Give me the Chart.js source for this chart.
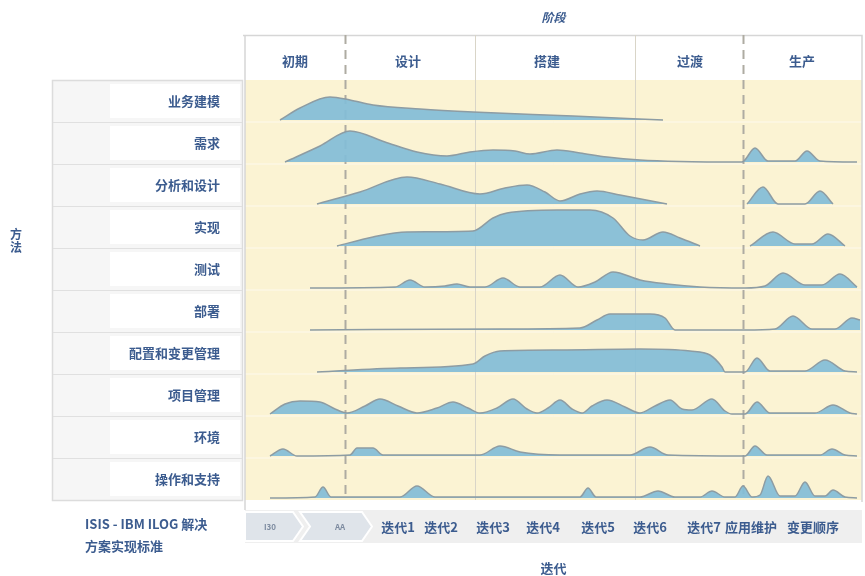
<!DOCTYPE html>
<html lang="zh">
<head>
  <meta charset="UTF-8">
  <title>阶段 / 迭代</title>
  <script src="https://cdn.jsdelivr.net/npm/chart.js"></script>
  <style>
    body { margin: 0; background: #fff; font-family: "Noto Sans CJK SC", sans-serif; }
    .wrap { position: relative; width: 865px; height: 576px; }
    .side-title {
      position: absolute; left: 10px; top: 227px;
      font-size: 12px; font-weight: bold; line-height: 13px; color: #3c5c8f;
    }
    .std-label {
      position: absolute; left: 85px; top: 513px;
      font-size: 13px; font-weight: bold; line-height: 22px; color: #3c5c8f;
    }
  </style>
</head>
<body>
<div class="wrap">
  <canvas id="rup" width="865" height="576"></canvas>
  <div class="side-title">方<br>法</div>
  <div class="std-label">ISIS - IBM ILOG 解决<br>方案实现标准</div>
</div>

<script>
  // categories / tick labels
  const workflows = ['业务建模', '需求', '分析和设计', '实现', '测试', '部署', '配置和变更管理', '项目管理', '环境', '操作和支持'];
  const phases = ['初期', '设计', '搭建', '过渡', '生产'];
  const phaseCenters = [50, 163, 302, 445, 557];
  const phaseBounds = [100, 230, 390, 498];      // first and last are dashed
  const iterations = ['I30', 'AA', '迭代1', '迭代2', '迭代3', '迭代4', '迭代5', '迭代6', '迭代7', '应用维护', '变更顺序'];
  const iterationPos = [25, 95, 153, 196, 248, 298, 353, 405, 459, 506, 568];

  // effort curves [time, effort] per workflow (null = no activity)
  const businessModeling = [[35,0],[55,12],[85,23],[105,20],[128,15],[175,11],[228,8],[328,4],[418,0]];
  const requirements = [[40,0],[75,16],[105,31],[140,20],[172,10],[202,6],[225,10],[248,12],[270,11],[285,8],[312,12],[335,9],[362,5],[395,2],[435,0.5],[497,0],[510,14],[523,1],[550,1],[562,11],[575,1],[612,0]];
  const analysisDesign = [[72,0],[115,12],[162,27],[195,20],[235,10],[260,16],[282,19],[300,12],[315,3],[335,10],[352,13],[375,9],[422,0],[460,null],[502,0],[518,17],[533,0],[560,0],[575,13],[588,0]];
  const implementation = [[92,0],[128,9],[162,14],[228,15],[248,28],[262,33],[312,36],[345,36],[368,28],[385,10],[398,6],[418,14],[435,8],[455,0],[480,null],[505,0],[528,14],[550,2],[567,2],[583,12],[600,0]];
  const test = [[65,0],[150,1],[165,8],[180,1],[200,2],[212,4],[225,1],[240,1],[258,10],[275,1],[295,1],[315,13],[333,1],[350,6],[368,16],[395,8],[422,4],[455,1],[500,0],[520,2],[538,15],[560,3],[577,3],[595,14],[612,1]];
  const deployment = [[65,0],[255,1],[335,2],[352,10],[365,16],[405,16],[420,12],[430,0],[500,0],[530,1],[548,14],[567,1],[590,1],[607,12],[615,10]];
  const configChange = [[72,0],[155,4],[228,8],[240,16],[255,21],[315,22],[395,23],[445,21],[465,17],[477,5],[480,0],[500,0],[512,14],[525,1],[560,1],[580,12],[600,1],[612,0]];
  const projectMgmt = [[25,0],[40,10],[55,13],[75,12],[90,5],[102,1],[120,8],[135,15],[153,8],[172,1],[192,6],[208,12],[223,6],[235,1],[252,6],[268,15],[282,5],[292,1],[303,6],[315,14],[327,5],[337,1],[347,8],[362,14],[380,7],[395,1],[410,8],[425,14],[437,5],[447,4],[467,15],[480,3],[487,0],[500,0],[512,12],[525,1],[570,1],[588,9],[605,1],[612,0]];
  const environment = [[25,0],[38,7],[52,0],[105,1],[112,8],[128,8],[138,1],[235,1],[255,10],[275,4],[315,1],[385,1],[405,9],[423,1],[500,0],[510,10],[522,1],[575,1],[587,7],[600,1],[612,0]];
  const operations = [[25,0],[70,1],[78,11],[86,1],[155,1],[172,12],[190,1],[335,1],[343,10],[351,1],[395,1],[413,7],[430,1],[455,1],[467,7],[480,1],[490,1],[498,12],[507,1],[515,3],[523,22],[535,2],[550,2],[560,16],[570,2],[580,2],[588,8],[600,1],[612,0]];

  const curves = [businessModeling, requirements, analysisDesign, implementation, test, deployment, configChange, projectMgmt, environment, operations];

  const ROW = 42;
  const TOTAL = ROW * workflows.length;
  const baseOf = i => TOTAL - ROW * (i + 1) + 2;
  const centerOf = i => TOTAL - ROW * i - ROW / 2;

  const blue = '#3c5c8f';
  Chart.defaults.font.family = '"Noto Sans CJK SC", "Noto Sans", sans-serif';
  Chart.defaults.font.weight = 'bold';

  const datasets = curves.map((c, i) => ({
    label: workflows[i],
    data: c.map(([x, h]) => ({ x: x, y: h === null ? null : baseOf(i) + h })),
    fill: { value: baseOf(i) },
    backgroundColor: 'rgba(130,189,215,0.92)',
    borderColor: '#8d9ca3',
    borderWidth: 1.5,
    pointRadius: 0,
    cubicInterpolationMode: 'monotone'
  }));

  // backgrounds, header, side panel, iteration strip (drawn before the axes)
  const frame = {
    id: 'frame',
    beforeDraw(chart) {
      const { ctx, chartArea: a, scales } = chart;
      const xs = scales.x;
      ctx.save();
      // body
      ctx.fillStyle = '#fbf3d3';
      ctx.fillRect(a.left, a.top, a.right - a.left, a.bottom - a.top);
      ctx.strokeStyle = 'rgba(255,255,255,0.6)';
      ctx.lineWidth = 1;
      for (let k = 1; k < workflows.length; k++) {
        const y = a.top + k * ROW;
        ctx.beginPath(); ctx.moveTo(a.left, y); ctx.lineTo(a.right, y); ctx.stroke();
      }
      // header box
      ctx.fillStyle = '#ffffff';
      ctx.fillRect(a.left, 35, a.right - a.left, a.top - 35);
      ctx.strokeStyle = '#d6d6d6';
      ctx.lineWidth = 1.5;
      ctx.beginPath();
      ctx.moveTo(a.left - 2, 35.5); ctx.lineTo(a.right, 35.5); ctx.lineTo(a.right, a.bottom + 2);
      ctx.moveTo(a.left, 35); ctx.lineTo(a.left, 510);
      ctx.stroke();
      // side panel
      ctx.fillStyle = '#f6f6f6';
      ctx.fillRect(52, a.top, a.left - 54, a.bottom - a.top);
      ctx.strokeStyle = '#dcdcdc';
      ctx.strokeRect(52.5, a.top + 0.5, a.left - 55, a.bottom - a.top);
      for (let k = 0; k < workflows.length; k++) {
        const y = a.top + k * ROW;
        ctx.fillStyle = '#ffffff';
        ctx.fillRect(110, y + 4, a.left - 115, ROW - 8);
        if (k > 0) {
          ctx.strokeStyle = '#e0e0e0';
          ctx.lineWidth = 1;
          ctx.beginPath(); ctx.moveTo(53, y + 0.5); ctx.lineTo(a.left - 3, y + 0.5); ctx.stroke();
        }
      }
      // iteration strip
      ctx.fillStyle = '#efefef';
      ctx.fillRect(a.left, 510, a.right - a.left, 33);
      ctx.fillStyle = '#dfe4ea';
      ctx.strokeStyle = '#ffffff';
      ctx.lineWidth = 2;
      const chev = (x0, x1, notch) => {
        ctx.beginPath();
        ctx.moveTo(x0, 512); ctx.lineTo(x1, 512); ctx.lineTo(x1 + 10, 526.5);
        ctx.lineTo(x1, 541); ctx.lineTo(x0, 541);
        if (notch) ctx.lineTo(x0 + 10, 526.5);
        ctx.closePath(); ctx.fill(); ctx.stroke();
      };
      chev(a.left, xs.getPixelForValue(48), false);
      chev(xs.getPixelForValue(55), xs.getPixelForValue(117), true);
      // phase dividers
      phaseBounds.forEach((b, i) => {
        const px = Math.round(xs.getPixelForValue(b)) + 0.5;
        const dashed = i === 0 || i === phaseBounds.length - 1;
        ctx.strokeStyle = dashed ? '#aeaba2' : '#d9d5c8';
        ctx.lineWidth = dashed ? 2 : 1;
        ctx.setLineDash(dashed ? [9, 6] : []);
        ctx.beginPath(); ctx.moveTo(px, 35); ctx.lineTo(px, a.bottom); ctx.stroke();
      });
      ctx.restore();
    }
  };

  new Chart(document.getElementById('rup'), {
    type: 'line',
    data: { datasets: datasets },
    options: {
      responsive: false,
      animation: false,
      layout: { padding: { left: 0, right: 3, top: 0, bottom: 0 } },
      plugins: { legend: { display: false }, tooltip: { enabled: false } },
      scales: {
        x: {
          type: 'linear', position: 'bottom', min: 0, max: 617,
          grid: { display: false, drawTicks: false }, border: { display: false },
          afterBuildTicks: s => { s.ticks = iterationPos.map(v => ({ value: v })); },
          afterFit: s => { s.height = 76; },
          ticks: {
            autoSkip: false, maxRotation: 0, padding: 19,
            callback: v => iterations[iterationPos.indexOf(v)],
            color: c => c.index < 2 ? '#7d8ba0' : blue,
            font: c => c.index < 2 ? { size: 8, weight: 'bold', lineHeight: 1.95 } : { size: 13, weight: 'bold' }
          },
          title: { display: true, text: '迭代', color: blue, font: { size: 13, weight: 'bold' }, padding: { top: 0, bottom: 0 } }
        },
        x2: {
          type: 'linear', position: 'top', min: 0, max: 617,
          grid: { display: false, drawTicks: false }, border: { display: false },
          afterBuildTicks: s => { s.ticks = phaseCenters.map(v => ({ value: v })); },
          afterFit: s => { s.height = 80; },
          ticks: {
            autoSkip: false, maxRotation: 0, padding: 11,
            callback: v => phases[phaseCenters.indexOf(v)],
            color: blue, font: { size: 13, weight: 'bold' }
          },
          title: { display: true, text: '阶段', color: blue, font: { size: 12, weight: 'bold', style: 'italic' }, padding: { top: 10, bottom: 0 } }
        },
        y: {
          type: 'linear', position: 'left', min: 0, max: TOTAL,
          grid: { display: false, drawTicks: false }, border: { display: false },
          afterBuildTicks: s => { s.ticks = workflows.map((w, i) => ({ value: centerOf(i) })).reverse(); },
          afterFit: s => { s.width = 245; },
          ticks: {
            autoSkip: false, padding: 25,
            callback: v => workflows[Math.round((TOTAL - ROW / 2 - v) / ROW)],
            color: blue, font: { size: 13, weight: 'bold' }
          }
        }
      }
    },
    plugins: [frame]
  });
</script>
</body>
</html>
